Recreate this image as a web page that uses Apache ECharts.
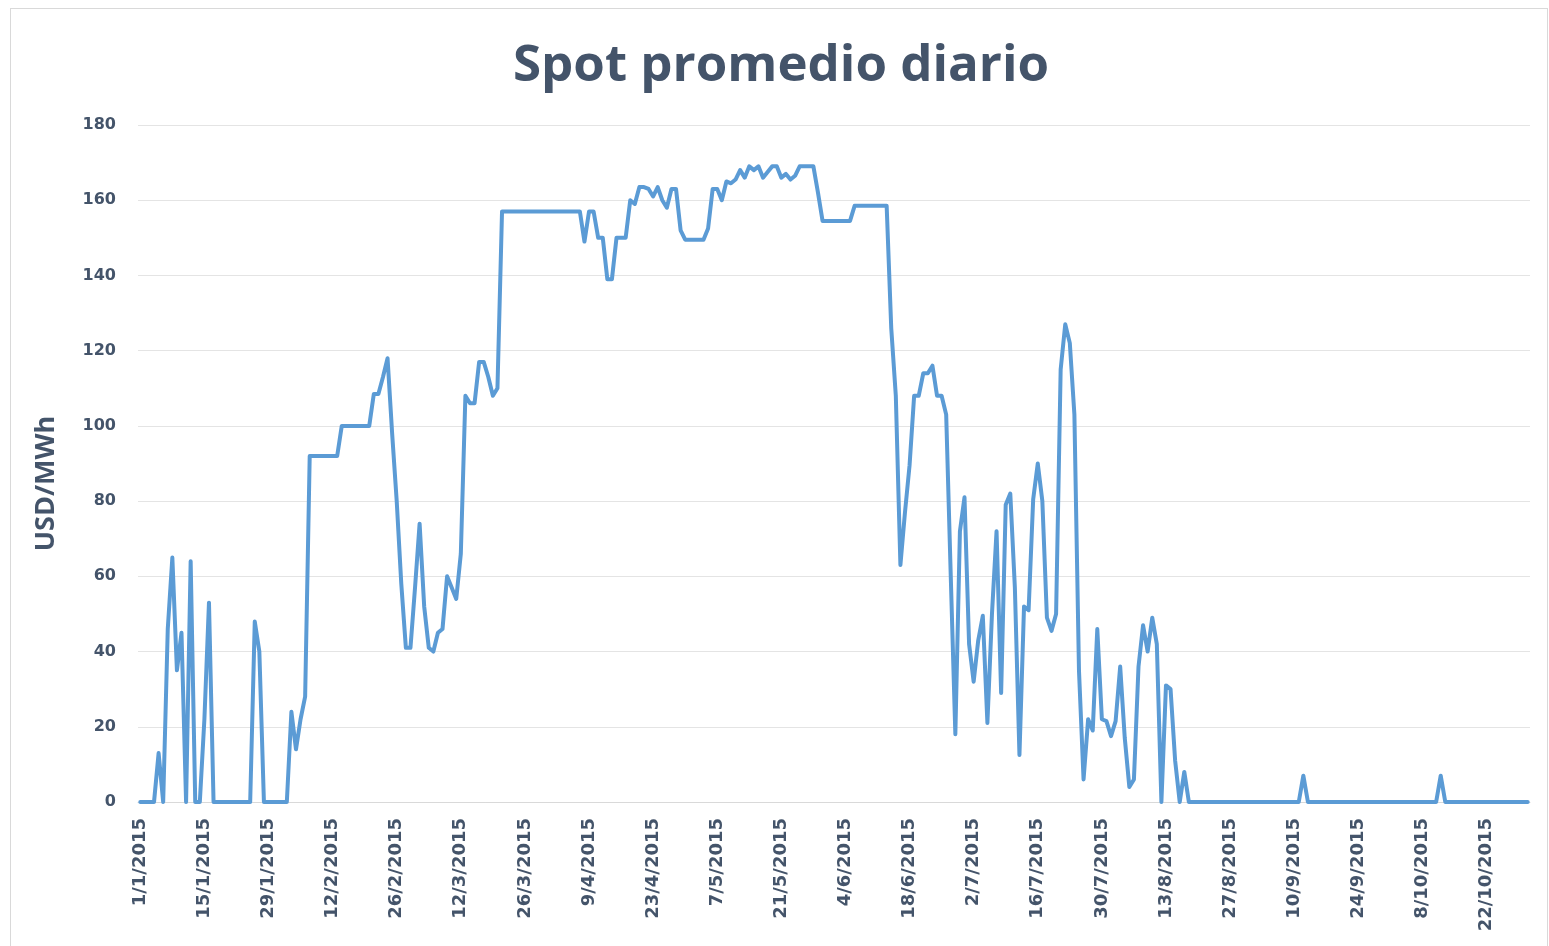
<!DOCTYPE html>
<html>
<head>
<meta charset="utf-8">
<script src="https://cdn.jsdelivr.net/npm/echarts@6/dist/echarts.min.js"></script>
<style>
  html, body { margin: 0; padding: 0; background: #fff; }
  #frame { position: absolute; left: 10px; top: 8px; width: 1538px; height: 945px; border: 1px solid #d9d9d9; box-sizing: border-box; }
  #chart { position: absolute; left: 0; top: 0; width: 1549px; height: 946px; }
</style>
</head>
<body>
<div id="frame"></div>
<div id="chart"></div>
<script>
// daily spot average, USD/MWh, one array per month of 2015
const jan = [0, 0, 0, 0, 13, 0, 46, 65, 35, 45, 0, 64, 0, 0, 22, 53, 0, 0, 0, 0, 0, 0, 0, 0, 0, 48, 40, 0, 0, 0, 0];
const feb = [0, 0, 24, 14, 22, 28, 92, 92, 92, 92, 92, 92, 92, 100, 100, 100, 100, 100, 100, 100, 108.5, 108.5, 113, 118, 98, 80, 58, 41];
const mar = [41, 57, 74, 52, 41, 40, 45, 46, 60, 57, 54, 66, 108, 106, 106, 117, 117, 113, 108, 110, 157, 157, 157, 157, 157, 157, 157, 157, 157, 157, 157];
const apr = [157, 157, 157, 157, 157, 157, 157, 149, 157, 157, 150, 150, 139, 139, 150, 150, 150, 160, 159, 163.5, 163.5, 163, 161, 163.5, 160, 158, 163, 163, 152, 149.5];
const may = [149.5, 149.5, 149.5, 149.5, 152.5, 163, 163, 160, 165, 164.5, 165.5, 168, 166, 169, 168, 169, 166, 167.5, 169, 169, 166, 167, 165.5, 166.5, 169, 169, 169, 169, 162, 154.5, 154.5];
const jun = [154.5, 154.5, 154.5, 154.5, 154.5, 158.5, 158.5, 158.5, 158.5, 158.5, 158.5, 158.5, 158.5, 126, 108, 63, 77, 89.5, 108, 108, 114, 114, 116, 108, 108, 103, 60, 18, 72, 81];
const jul = [42, 32, 43, 49.5, 21, 50, 72, 29, 79, 82, 57, 12.5, 52, 51, 80.5, 90, 80, 49, 45.5, 50, 115, 127, 122, 103, 35, 6, 22, 19, 46, 22, 21.5];
const aug = [17.5, 21.5, 36, 17, 4, 6, 36, 47, 40, 49, 42, 0, 31, 30, 11, 0, 8, 0, 0, 0, 0, 0, 0, 0, 0, 0, 0, 0, 0, 0, 0];
const sep = [0, 0, 0, 0, 0, 0, 0, 0, 0, 0, 0, 7, 0, 0, 0, 0, 0, 0, 0, 0, 0, 0, 0, 0, 0, 0, 0, 0, 0, 0];
const oct = [0, 0, 0, 0, 0, 0, 0, 0, 0, 0, 0, 7, 0, 0, 0, 0, 0, 0, 0, 0, 0, 0, 0, 0, 0, 0, 0, 0, 0, 0, 0];

const spot = [].concat(jan, feb, mar, apr, may, jun, jul, aug, sep, oct);

// one category per day, labelled d/m/yyyy
const days = spot.map((_, i) => {
  const d = new Date(Date.UTC(2015, 0, 1 + i));
  return `${d.getUTCDate()}/${d.getUTCMonth() + 1}/${d.getUTCFullYear()}`;
});

const textColor = '#44546a';

const chart = echarts.init(document.getElementById('chart'), null, { renderer: 'canvas' });

chart.setOption({
  backgroundColor: 'transparent',
  animation: false,
  title: {
    text: 'Spot promedio diario',
    left: 513,
    top: 36,
    padding: [5, 0, 5, 0],
    textStyle: { color: textColor, fontFamily: 'Open Sans', fontWeight: 'bold', fontSize: 51 }
  },
  grid: { left: 138, right: 19, top: 125, bottom: 144, containLabel: false },
  xAxis: {
    type: 'category',
    data: days,
    boundaryGap: true,
    axisLine: { lineStyle: { color: '#d9d9d9', width: 1 } },
    axisTick: { show: false },
    axisLabel: {
      interval: 13,
      rotate: 90,
      margin: 16,
      color: textColor,
      fontFamily: 'DejaVu Sans',
      fontWeight: 'bold',
      fontSize: 18
    }
  },
  yAxis: {
    type: 'value',
    min: 0,
    max: 180,
    interval: 20,
    name: 'USD/MWh',
    nameLocation: 'middle',
    nameGap: 78,
    nameRotate: 90,
    nameTextStyle: {
      color: textColor,
      fontFamily: 'Open Sans',
      fontWeight: 'bold',
      fontSize: 27,
      padding: [0, 40, 0, 0]
    },
    axisLine: { show: false },
    axisTick: { show: false },
    axisLabel: {
      margin: 22,
      color: textColor,
      fontFamily: 'DejaVu Sans',
      fontWeight: 'bold',
      fontSize: 16
    },
    splitLine: { lineStyle: { color: '#e4e4e4', width: 1 } }
  },
  series: [{
    name: 'Spot',
    type: 'line',
    data: spot,
    symbol: 'none',
    smooth: false,
    lineStyle: { color: '#5b9bd5', width: 4, join: 'round', cap: 'round' }
  }]
});
</script>
</body>
</html>
